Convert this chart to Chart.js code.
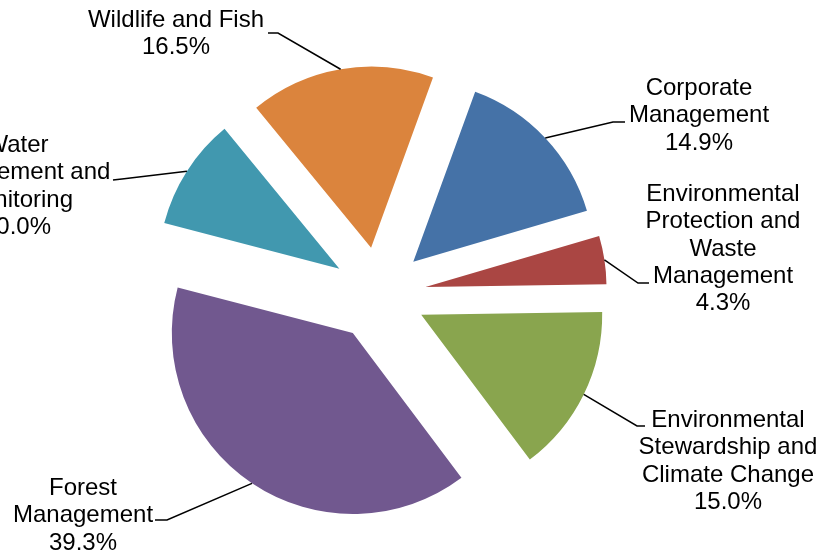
<!DOCTYPE html>
<html>
<head>
<meta charset="utf-8">
<script src="https://cdn.jsdelivr.net/npm/chart.js@4.4.0/dist/chart.umd.min.js"></script>
<style>
  html, body { margin: 0; padding: 0; background: #fff; }
  #wrap { width: 838px; height: 556px; position: relative; }
</style>
</head>
<body>
<div id="wrap"><canvas id="budgetPie"></canvas></div>
<script>
// activity areas, clockwise from the first slice
var categories = [
    ['Corporate', 'Management'],
    ['Environmental', 'Protection and', 'Waste', 'Management'],
    ['Environmental', 'Stewardship and', 'Climate Change'],
    ['Forest', 'Management'],
    ['Water', 'Management and', 'Monitoring'],
    ['Wildlife and Fish']
];
var shares = [14.9, 4.3, 15.0, 39.3, 10.0, 16.5];
var sliceColors = ['#4572A7', '#AA4643', '#89A54E', '#71588F', '#4198AF', '#DB843D'];

// label placement: text centre x, first baseline
var labelPos = [[699, 95], [723, 201], [728, 427], [83, 495], [17, 152], [176, 27]];
// leader line bend and end
var leaderBend = [[613, 122], [638, 283], [637, 426], [167, 520], [122, 179], [278, 33]];
var leaderEnd = [[625, 122], [649, 283], [645, 426], [155, 520], [113, 180], [268, 33]];

var explodeBy = 47;
var lineGap = 27.3;

// pull every slice out from the centre along its middle angle
var explodePlugin = {
    id: 'explode',
    beforeDatasetDraw: function(chart, args) {
        var ctx = chart.ctx;
        args.meta.data.forEach(function(arc) {
            var mid = (arc.startAngle + arc.endAngle) / 2;
            ctx.save();
            ctx.translate(Math.cos(mid) * explodeBy, Math.sin(mid) * explodeBy);
            arc.draw(ctx);
            ctx.restore();
        });
        return false;
    }
};

// outside labels with leader lines to the slice edge
var labelPlugin = {
    id: 'sliceLabels',
    afterDatasetsDraw: function(chart) {
        var ctx = chart.ctx;
        var meta = chart.getDatasetMeta(0);
        ctx.save();
        meta.data.forEach(function(arc, i) {
            var mid = (arc.startAngle + arc.endAngle) / 2;
            var r = arc.outerRadius + explodeBy;
            var px = arc.x + Math.cos(mid) * r;
            var py = arc.y + Math.sin(mid) * r;

            ctx.strokeStyle = '#000';
            ctx.lineWidth = 1.5;
            ctx.beginPath();
            ctx.moveTo(px, py);
            ctx.lineTo(leaderBend[i][0], leaderBend[i][1]);
            ctx.lineTo(leaderEnd[i][0], leaderEnd[i][1]);
            ctx.stroke();

            var lines = categories[i].concat([shares[i].toFixed(1) + '%']);
            ctx.fillStyle = '#000';
            ctx.font = '24px "Liberation Sans", Arial, sans-serif';
            ctx.textAlign = 'center';
            ctx.textBaseline = 'alphabetic';
            lines.forEach(function(txt, j) {
                ctx.fillText(txt, labelPos[i][0], labelPos[i][1] + j * lineGap);
            });
        });
        ctx.restore();
    }
};

var ctx = document.getElementById('budgetPie').getContext('2d');
var budgetPie = new Chart(ctx, {
    type: 'pie',
    data: {
        labels: categories,
        datasets: [{
            data: shares,
            backgroundColor: sliceColors,
            borderWidth: 0
        }]
    },
    options: {
        responsive: true,
        maintainAspectRatio: false,
        animation: false,
        rotation: 20,
        radius: 181,
        layout: { padding: { left: 0, right: 80, top: 32, bottom: 0 } },
        plugins: {
            legend: { display: false },
            tooltip: { enabled: false }
        }
    },
    plugins: [explodePlugin, labelPlugin]
});
</script>
</body>
</html>
